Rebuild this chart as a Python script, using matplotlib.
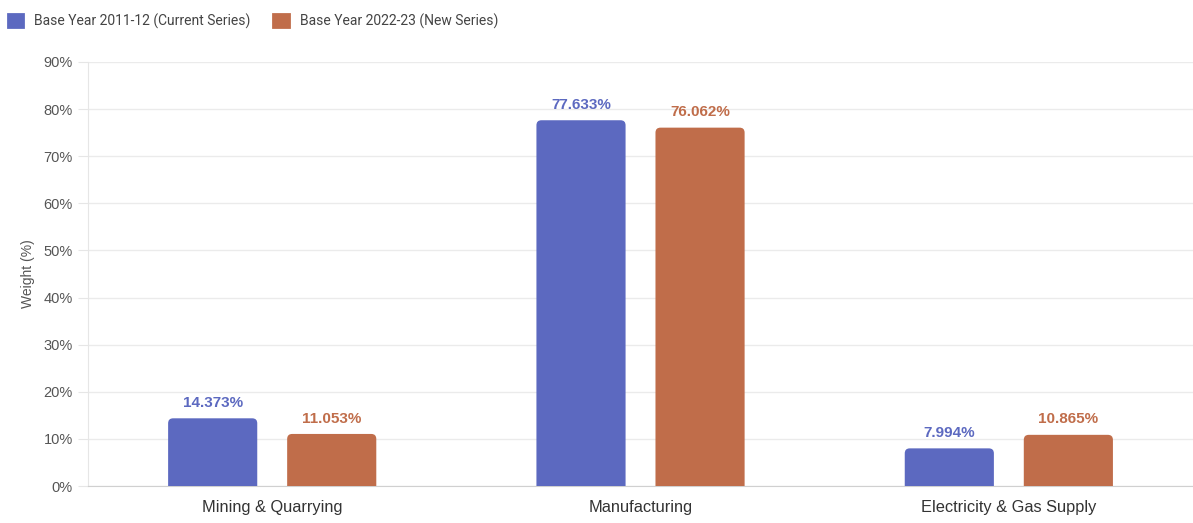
import matplotlib.pyplot as plt
import numpy as np
from matplotlib.patches import Patch, FancyBboxPatch

categories = ["Mining & Quarrying", "Manufacturing", "Electricity & Gas Supply"]
series_names = ["Base Year 2011-12 (Current Series)", "Base Year 2022-23 (New Series)"]
current_series = [14.373, 77.633, 7.994]
new_series = [11.053, 76.062, 10.865]
yticks = [0, 10, 20, 30, 40, 50, 60, 70, 80, 90]

blue = "#5c69c0"
orange = "#c06d4a"

plt.rcParams["font.family"] = ["Liberation Sans", "DejaVu Sans"]

fig = plt.figure(figsize=(11.93, 5.23), dpi=100)
ax = fig.add_axes([0.0738, 0.0707, 0.9262, 0.8108])

x = np.arange(len(categories))
off = 0.1616
w = 0.242
b1 = ax.bar(x - off, current_series, w, color=blue, zorder=3)
b2 = ax.bar(x + off, new_series, w, color=orange, zorder=3)

ax.set_xlim(-0.5, 2.5)
ax.set_ylim(0, 90)

# rounded tops: swap each rectangle for a rounded box, bottom pushed below 0 so it is clipped
px_x = ax.get_position().width * fig.get_figwidth() * fig.dpi / 3.0
px_y = ax.get_position().height * fig.get_figheight() * fig.dpi / 90.0
aspect = px_x / px_y
rad = 5.0 / px_x
for bars, c in [(b1, blue), (b2, orange)]:
    for r in bars:
        r.set_visible(False)
        fb = FancyBboxPatch((r.get_x(), -3), r.get_width(), r.get_height() + 3,
                            boxstyle="round,pad=0,rounding_size={}".format(rad),
                            mutation_aspect=aspect, facecolor=c, edgecolor="none", zorder=3)
        ax.add_patch(fb)

for bars, vals, c in [(b1, current_series, blue), (b2, new_series, orange)]:
    for r, v in zip(bars, vals):
        ax.annotate("{:.3f}%".format(v), (r.get_x() + r.get_width() / 2, v),
                    xytext=(0, 6), textcoords="offset points", ha="center", va="bottom",
                    color=c, fontsize=11, fontweight="bold")

ax.set_yticks(yticks)
ax.set_yticklabels(["{}%".format(t) for t in yticks], fontsize=10.5, color="#555555")
ax.set_xticks(x)
ax.set_xticklabels(categories, fontsize=11.8, color="#333333")
ax.tick_params(axis="x", length=0, pad=10)
ax.tick_params(axis="y", length=7, color="#e6e6e6", pad=4)
ax.grid(axis="y", color="#ebebeb", linewidth=1, zorder=0)
for s in ["top", "right"]:
    ax.spines[s].set_visible(False)
ax.spines["left"].set_color("#e6e6e6")
ax.spines["bottom"].set_color("#d0d0d0")
ax.set_ylabel("Weight (%)", fontsize=10, color="#555555", labelpad=6)

handles = [Patch(facecolor=blue, edgecolor=blue, linewidth=2, joinstyle="round", label=series_names[0]),
           Patch(facecolor=orange, edgecolor=orange, linewidth=2, joinstyle="round", label=series_names[1])]
fig.legend(handles=handles, loc="upper left", bbox_to_anchor=(-0.004, 0.998), ncol=2, frameon=False,
           prop={"family": ["Roboto", "DejaVu Sans"], "size": 10},
           handlelength=1.1, handleheight=1.1, columnspacing=1.65, handletextpad=0.8,
           labelcolor="#444444")

fig.savefig("out.png", dpi=100)
